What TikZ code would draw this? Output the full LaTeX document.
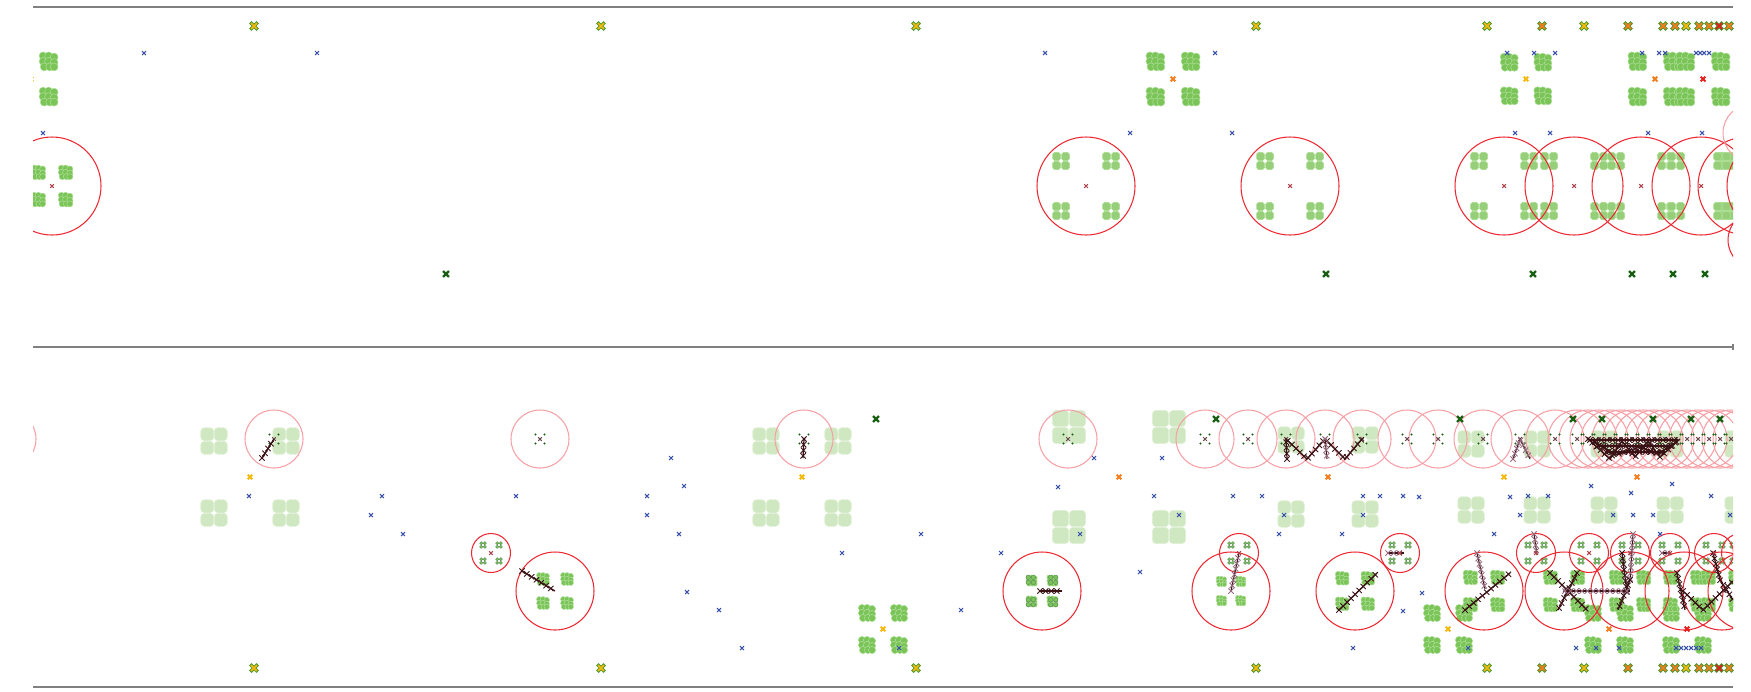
\documentclass[tikz,border=0pt]{standalone}
\usepackage{tikz}
\usetikzlibrary{decorations.markings}
% cores
\definecolor{eixocor}{RGB}{128,128,128}
\definecolor{azul}{RGB}{55,80,170}
\definecolor{vermelho}{RGB}{236,40,50}
\definecolor{rosa}{RGB}{246,160,166}
\definecolor{folhacor}{RGB}{122,196,88}
\definecolor{folhaborda}{RGB}{172,222,148}
\definecolor{gradecor}{RGB}{150,206,122}
\definecolor{claracor}{RGB}{208,232,194}
\definecolor{claraborda}{RGB}{224,241,214}
\definecolor{verdeescuro}{RGB}{25,95,20}
\definecolor{verdeborda}{RGB}{70,150,40}
\definecolor{marrom}{RGB}{58,18,22}
\definecolor{marromclaro}{RGB}{150,105,125}
\definecolor{laranja}{RGB}{245,125,30}
\definecolor{amarelo}{RGB}{245,185,15}
\definecolor{vermelhox}{RGB}{232,30,30}
\definecolor{centrocor}{RGB}{175,65,75}
\tikzset{
    eixo/.style={draw=eixocor, line width=0.9pt},
    cruzazul/.style={azul, line width=0.6pt, mark=x, mark size=1.6pt, only marks},
    cruzverde/.style={verdeescuro, line width=1.3pt, mark=x, mark size=2.4pt, only marks},
    cruzlaranja/.style={laranja, line width=1.1pt, mark=x, mark size=1.9pt, only marks},
    cruzcentro/.style={centrocor, line width=0.6pt, mark=x, mark size=1.5pt, only marks},
    cruzborda/.style={verdeborda, line width=2pt, mark=x, mark size=3pt, only marks},
    circvermelho/.style={draw=vermelho, line width=0.6pt},
    circrosa/.style={draw=rosa, line width=0.6pt},
    trilha/.style={draw=marrom, line width=0.7pt,
        postaction={decorate, decoration={markings,
            mark=between positions 0 and 1 step 3.2pt with {\pgftransformresetnontranslations
                \draw[marrom, line width=0.5pt] (-1.5pt,-1.5pt) -- (1.5pt,1.5pt) (-1.5pt,1.5pt) -- (1.5pt,-1.5pt);}}}},
    trilharosa/.style={draw=marrom, line width=0.6pt,
        postaction={decorate, decoration={markings,
            mark=between positions 0 and 1 step 3.2pt with {\pgftransformresetnontranslations
                \draw[marromclaro, line width=0.5pt] (-1.5pt,-1.5pt) -- (1.5pt,1.5pt) (-1.5pt,1.5pt) -- (1.5pt,-1.5pt);}}}},
    trevo/.pic={
        \foreach \cx/\cy in {-16/-16,16/-16,-16/16,16/16}
            \foreach \i/\j in {-5/-5,0/-5,5/-4,-5/0,0/0,5/1,-4/5,1/5,5/5}
                \filldraw[fill=folhacor, draw=folhaborda, line width=0.3pt] (\cx+\i,\cy+\j) circle (3.6);
    },
    grade/.pic={
        \foreach \i in {-4.5,4.5} \foreach \j in {-4.5,4.5}
            \filldraw[fill=gradecor, draw=folhaborda, line width=0.3pt, rounded corners=1pt] (\i-4,\j-4) rectangle (\i+4,\j+4);
    },
    clara/.pic={
        \foreach \i in {-6.75,6.75} \foreach \j in {-6.75,6.75}
            \filldraw[fill=claracor, draw=claraborda, line width=0.3pt, rounded corners=2pt] (\i-6.5,\j-6.5) rectangle (\i+6.5,\j+6.5);
    },
    miuda/.pic={
        \foreach \cx/\cy in {-8/-8,8/-8,-8/8,8/8}
            \foreach \i/\j in {-1.8/-1.8,1.8/-1.8,-1.8/1.8,1.8/1.8}
                \filldraw[fill=folhacor, draw=verdeescuro!70, line width=0.25pt] (\cx+\i,\cy+\j) circle (1.6);
    },
    cinco/.pic={
        \foreach \i/\j in {-4.5/-4.5,4.5/-4.5,-4.5/4.5,4.5/4.5}
            \fill[verdeescuro] (\i,\j) circle (1.2);
        \draw[marrom!75, line width=0.6pt, mark=x, mark size=1.5pt, only marks] plot coordinates {(0,0)};
    }
}
\begin{document}
\begin{tikzpicture}[x=0.02cm, y=-0.02cm]
    \useasboundingbox (0,0) rectangle (1751,691);

    % eixos
    \draw[eixo] (33,7) -- (1733,7);
    \draw[eixo] (33,347) -- (1733,347);
    \draw[eixo] (33,687) -- (1733,687);
    \draw[eixo] (1733,344) -- (1733,350);

    % painel de cima
    \begin{scope}
        \clip (33,7) rectangle (1733,347);
        \foreach \c in {1086,1290,1504,1574,1641,1701,1747,1776}
            \foreach \dx in {-25,25} \foreach \dy in {-25,25}
                \pic at (\c+\dx,186+\dy) {grade};
        \foreach \c/\s in {31/1.1,1173/1.1,1526/1.05,1655/1.1,1703/1.1}
            \pic[scale=\s] at (\c,79) {trevo};
        \pic[scale=0.85] at (52,186) {trevo};
        \foreach \c in {52,1086,1290,1504,1574,1641,1701,1747,1776}
            \draw[circvermelho] (\c,186) circle (49);
        \draw[circrosa] (1752,133) circle (29);
        \draw[circvermelho] (1757,240) circle (29);
        \draw[cruzcentro] plot coordinates {(52,186) (1086,186) (1290,186) (1504,186) (1574,186) (1641,186) (1701,186)};
        \draw[cruzazul] plot coordinates {(144,53) (317,53) (1045,53) (1215,53) (1507,53) (1534,53) (1555,53) (1642,53) (1659,53) (1665,53) (1696,53) (1700,53) (1704,53) (1709,53)};
        \draw[cruzazul] plot coordinates {(43,133) (1130,133) (1232,133) (1515,133) (1550,133) (1648,133) (1702,133)};
        \draw[cruzverde] plot coordinates {(446,274) (1326,274) (1533,274) (1632,274) (1673,274) (1705,274)};
        \draw[cruzlaranja, amarelo] plot coordinates {(31,79) (1526,79)};
        \draw[cruzlaranja] plot coordinates {(1173,79) (1655,79)};
        \draw[cruzlaranja, vermelhox] plot coordinates {(1703,79)};
    \end{scope}

    % painel de baixo
    \begin{scope}
        \clip (33,347) rectangle (1733,687);
        \foreach \c/\d/\s in {250/36/1,802/36/1,1119/50/1.25,1328/37/1,1504/33/1,1637/33/1,1771/33/1}
            \foreach \sx in {-1,1} \foreach \sy in {-1,1}
                \pic[scale=\s] at (\c+\sx*\d,477+\sy*\d) {clara};
        \foreach \c in {883,1448,1609,1687}
            \pic at (\c,629) {trevo};
        \foreach \c/\s in {555/0.75,1042/0.65,1231/0.6,1355/0.8,1484/0.85,1564/0.85,1630/0.85,1684/0.85,1722/0.85}
            \pic[scale=\s] at (\c,591) {trevo};
        \pic[scale=1.4] at (1042,591) {miuda};
        \foreach \c in {491,1239,1400,1536,1589,1630,1670,1714,1741}
            \pic at (\c,553) {miuda};
        \foreach \c in {555,1042,1231,1355,1484,1564,1630,1684,1722,1747}
            \draw[circvermelho] (\c,591) circle (39);
        \foreach \c in {491,1239,1400,1536,1589,1630,1670,1714,1741}
            \draw[circvermelho] (\c,553) circle (19.5);
        \foreach \c in {7,274,540,804,1068,1205,1248,1286,1325,1362,1407,1438,1483,1520,1555,1577,1588,...,1731,1742}
            \draw[circrosa] (\c,439) circle (29);
        \foreach \c in {274,540,804,1068,1205,1248,1286,1325,1362,1407,1438,1483,1520,1555,1577,1588,...,1731}
            \pic at (\c,439) {cinco};

        % trilhas
        \draw[trilha] (262,458) -- (274,439);
        \draw[trilha] (522,571) -- (555,591);
        \draw[trilha] (804,439) -- (803,458);
        \draw[trilha] (1040,591) -- (1062,591);
        \draw[trilha] (1287,459) -- (1286,439) -- (1307,459) -- (1325,439) -- (1345,459) -- (1362,439);
        \draw[trilharosa] (1325,439) -- (1327,459);
        \draw[trilharosa] (1231,591) -- (1239,553);
        \draw[trilha] (1339,610) -- (1377,573);
        \draw[trilharosa] (1388,553) -- (1404,553);
        \draw[trilharosa] (1513,459) -- (1520,439) -- (1530,459);
        \draw[trilha] (1588,439) -- (1610,459) -- (1622,441) -- (1635,457) -- (1648,441) -- (1660,457) -- (1680,439);
        \draw[trilha] (1590,440) -- (1678,440);
        \draw[trilha] (1598,446) -- (1672,446);
        \draw[trilha] (1606,452) -- (1666,452);
        \draw[trilha] (1595,442) -- (1615,455) -- (1640,447) -- (1658,454) -- (1676,442);
        \draw[trilharosa] (1534,534) -- (1537,555);
        \draw[trilharosa] (1633,534) -- (1630,580);
        \draw[trilha] (1630,580) -- (1618,610);
        \draw[trilha] (1622,553) -- (1627,593);
        \draw[trilharosa] (1662,553) -- (1671,553);
        \draw[trilha] (1713,553) -- (1720,580) -- (1733,600);
        \draw[trilharosa] (1477,553) -- (1485,589);
        \draw[trilha] (1465,610) -- (1510,573);
        \draw[trilha] (1550,573) -- (1587,610);
        \draw[trilha] (1577,573) -- (1558,610);
        \draw[trilharosa] (1565,591) -- (1630,591);
        \draw[trilha] (1677,573) -- (1685,610);
        \draw[trilha] (1683,591) -- (1703,610) -- (1732,582);

        % marcas
        \draw[cruzcentro] plot coordinates {(491,553) (1239,553) (1400,553) (1536,553) (1589,553) (1630,553) (1670,553) (1714,553)};
        \draw[cruzazul] plot coordinates {(249,496) (382,496) (371,515) (403,534) (516,496) (671,458) (684,486) (647,496) (647,515) (679,534) (687,592) (719,610) (742,648) (842,553) (921,534) (899,648) (961,610) (1001,553) (1058,487) (1094,458) (1080,534) (1140,572) (1154,496) (1162,458) (1179,515) (1233,496) (1262,496) (1284,515) (1279,534) (1342,534) (1363,496) (1380,496) (1363,515) (1353,648) (1403,496) (1419,497) (1422,593) (1403,611) (1494,534) (1510,497) (1528,496) (1548,496) (1520,515) (1591,486) (1631,493) (1672,484) (1711,496) (1613,515) (1633,515) (1653,515) (1660,534) (1730,515) (1468,648) (1576,648) (1596,648) (1619,648) (1676,648) (1681,648) (1686,648) (1691,648) (1696,648) (1701,648)};
        \draw[cruzverde] plot coordinates {(876,419) (1216,419) (1460,419) (1573,419) (1602,419) (1653,419) (1691,419) (1720,419)};
        \draw[cruzlaranja, amarelo] plot coordinates {(250,477) (802,477) (1504,477) (883,629) (1448,629)};
        \draw[cruzlaranja] plot coordinates {(1119,477) (1328,477) (1637,477) (1609,629)};
        \draw[cruzlaranja, vermelhox] plot coordinates {(1687,629)};
    \end{scope}

    % marcas das bordas
    \foreach \px/\cor in {254/amarelo,601/amarelo,916/amarelo,1256/amarelo,1487/amarelo,1542/laranja,1584/amarelo,1628/laranja,1663/laranja,1675/laranja,1686/amarelo,1699/laranja,1709/laranja,1719/vermelhox,1729/laranja}{
        \draw[cruzborda] plot coordinates {(\px,26) (\px,668)};
        \draw[\cor, line width=1pt, mark=x, mark size=2.4pt, only marks] plot coordinates {(\px,26) (\px,668)};
    }
\end{tikzpicture}
\end{document}
